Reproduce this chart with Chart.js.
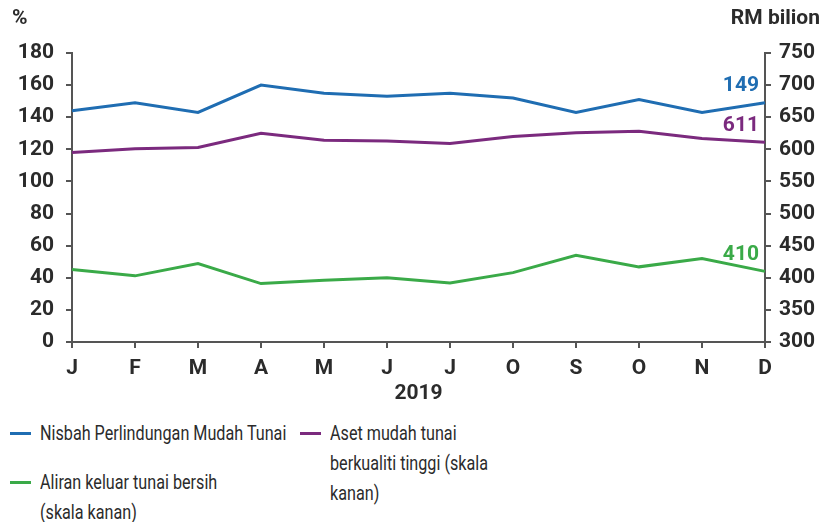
<!DOCTYPE html>
<html>
<head>
<meta charset="utf-8">
<script src="https://cdn.jsdelivr.net/npm/chart.js@4"></script>
<style>
  body { margin: 0; background: #fff; width: 825px; height: 522px; position: relative; overflow: hidden; font-family: Roboto, sans-serif; color: #2b2b2b; }
  #wrap { position: absolute; left: 0; top: 0; width: 825px; height: 410px; }
  .unit { position: absolute; font-weight: bold; font-size: 21px; top: 5px; }
  .leg { position: absolute; font-family: Roboto, sans-serif; font-size: 21px; line-height: 30px; }
  .leg span { display: inline-block; white-space: nowrap; transform: scaleX(0.77); transform-origin: left top; }
  .leg i { position: absolute; left: -30px; top: 14px; width: 21px; height: 3px; }
</style>
</head>
<body>
<div id="wrap"><canvas id="liquidityChart"></canvas></div>
<div class="unit" style="left:12px">%</div>
<div class="unit" style="right:5px">RM bilion</div>
<div class="leg" style="left:40px;top:418px"><i style="background:#1f6db2"></i><span>Nisbah Perlindungan Mudah Tunai</span></div>
<div class="leg" style="left:40px;top:467px"><i style="background:#3aaa48"></i><span>Aliran keluar tunai bersih<br>(skala kanan)</span></div>
<div class="leg" style="left:330px;top:418px"><i style="background:#7b2a7e"></i><span>Aset mudah tunai<br>berkualiti tinggi (skala<br>kanan)</span></div>
<script>
// data
const months = ['J', 'F', 'M', 'A', 'M', 'J', 'J', 'O', 'S', 'O', 'N', 'D'];
const lcrRatio = [144, 149, 143, 160, 155, 153, 155, 152, 143, 151, 143, 149];
const hqla = [595, 601, 603, 625, 614, 613, 609, 620, 626, 628, 617, 611];
const netOutflow = [413, 403, 422, 391, 396, 400, 392, 408, 435, 417, 430, 410];
const leftTicks = [0, 180, 20];
const rightTicks = [300, 750, 50];

const tickFont = { family: 'Roboto', size: 21, weight: 'bold' };
const axisColor = '#555';

// label nilai terakhir di hujung garisan
const endLabels = {
    id: 'endLabels',
    afterDatasetsDraw(chart) {
        const ctx = chart.ctx;
        ctx.save();
        ctx.font = 'bold 21px Roboto';
        ctx.textAlign = 'right';
        ctx.textBaseline = 'middle';
        chart.data.datasets.forEach((ds, i) => {
            const pts = chart.getDatasetMeta(i).data;
            const p = pts[pts.length - 1];
            ctx.fillStyle = ds.borderColor;
            ctx.fillText(ds.data[ds.data.length - 1], p.x - 6, p.y - 17);
        });
        ctx.restore();
    }
};

new Chart(document.getElementById('liquidityChart'), {
    type: 'line',
    data: {
        labels: months,
        datasets: [
            { label: 'Nisbah Perlindungan Mudah Tunai', data: lcrRatio, borderColor: '#1f6db2', yAxisID: 'y' },
            { label: 'Aset mudah tunai berkualiti tinggi (skala kanan)', data: hqla, borderColor: '#7b2a7e', yAxisID: 'y1' },
            { label: 'Aliran keluar tunai bersih (skala kanan)', data: netOutflow, borderColor: '#3aaa48', yAxisID: 'y1' }
        ]
    },
    options: {
        responsive: true,
        maintainAspectRatio: false,
        animation: false,
        layout: { padding: { top: 53, left: 0, right: 0, bottom: 0 } },
        elements: {
            line: { borderWidth: 3, tension: 0 },
            point: { radius: 0 }
        },
        plugins: { legend: { display: false }, tooltip: { enabled: false } },
        scales: {
            x: {
                offset: false,
                grid: { display: true, drawOnChartArea: false, drawTicks: true, tickLength: 6, color: axisColor, lineWidth: 2 },
                border: { color: axisColor, width: 2 },
                ticks: { font: tickFont, color: '#2b2b2b', padding: 8, maxRotation: 0, autoSkip: false },
                title: { display: true, text: '2019', font: tickFont, color: '#2b2b2b', padding: { top: 2 } },
                afterFit(s) { s.height = 68; }
            },
            y: {
                position: 'left',
                min: leftTicks[0], max: leftTicks[1],
                grid: { display: true, drawOnChartArea: false, tickLength: 6, color: axisColor, lineWidth: 2 },
                border: { color: axisColor, width: 2 },
                ticks: { stepSize: leftTicks[2], font: tickFont, color: '#2b2b2b', padding: 12 },
                afterFit(s) { s.width = 72; }
            },
            y1: {
                position: 'right',
                min: rightTicks[0], max: rightTicks[1],
                grid: { display: true, drawOnChartArea: false, tickLength: 6, color: axisColor, lineWidth: 2 },
                border: { color: axisColor, width: 2 },
                ticks: { stepSize: rightTicks[2], font: tickFont, color: '#2b2b2b', padding: 8 },
                afterFit(s) { s.width = 60; }
            }
        }
    },
    plugins: [endLabels]
});
</script>
</body>
</html>
